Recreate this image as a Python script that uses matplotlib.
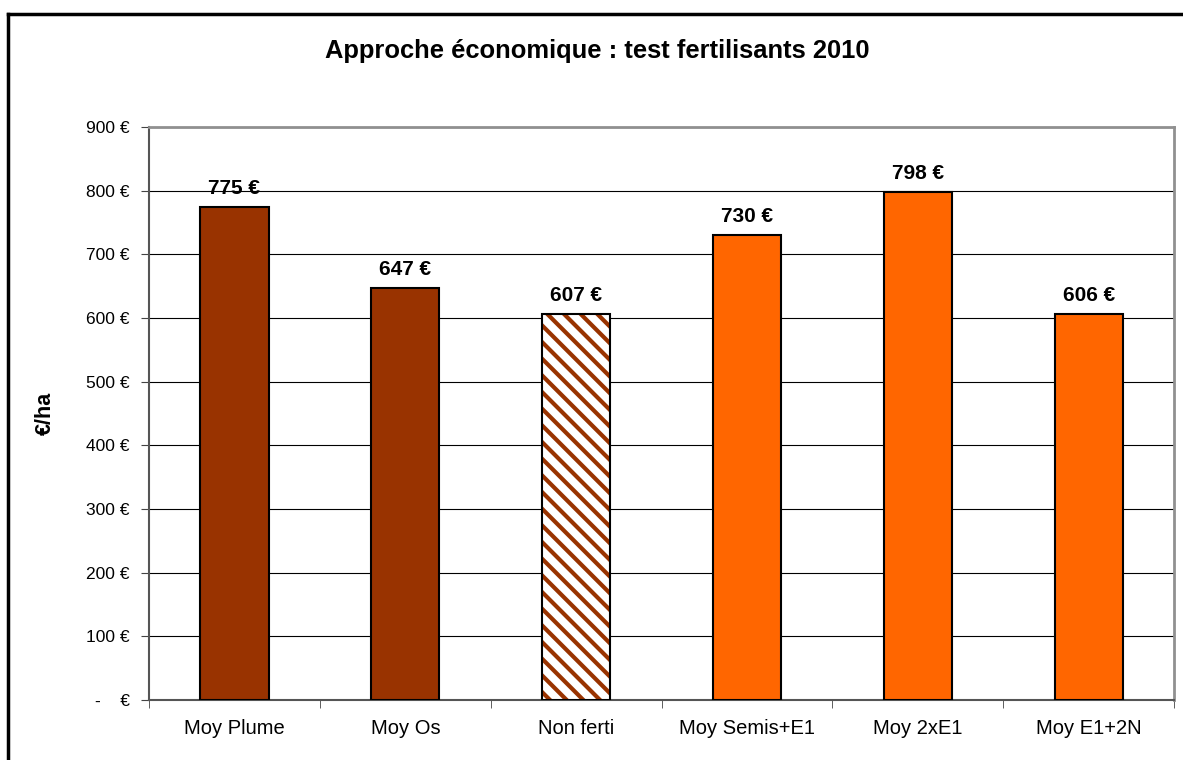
import matplotlib
matplotlib.use("Agg")
import matplotlib.pyplot as plt
import matplotlib.ticker as mticker
from matplotlib.lines import Line2D
import numpy as np

categories = ["Moy Plume", "Moy Os", "Non ferti", "Moy Semis+E1", "Moy 2xE1", "Moy E1+2N"]
values = [775, 647, 607, 730, 798, 606]
bar_colors = ["#993300", "#993300", "white", "#FF6600", "#FF6600", "#FF6600"]
hatched = [False, False, True, False, False, False]
y_ticks = [0, 100, 200, 300, 400, 500, 600, 700, 800, 900]

plt.rcParams["font.family"] = ["Liberation Sans", "DejaVu Sans"]
plt.rcParams["hatch.linewidth"] = 3.0

fig = plt.figure(figsize=(11.83, 7.6), dpi=100)
ax = fig.add_axes([0.126, 0.0789, 0.8665, 0.754])

x = np.arange(len(categories))
for xi, v, c, h in zip(x, values, bar_colors, hatched):
    if h:
        ax.bar(xi, v, width=0.4, color="white", edgecolor="#993300",
               hatch="\\\\", lw=0, zorder=3)
        ax.bar(xi, v, width=0.4, fill=False, edgecolor="black", lw=1.5, zorder=4)
    else:
        ax.bar(xi, v, width=0.4, color=c, edgecolor="black", lw=1.5, zorder=3)
    ax.text(xi, v + 14, f"{v} €", ha="center", va="bottom",
            fontsize=15, fontweight="bold")

ax.set_xlim(-0.5, len(categories) - 0.5)
ax.set_ylim(0, 900)
ax.set_yticks(y_ticks)
ax.set_yticklabels([f"{t} €" if t else "-    €" for t in y_ticks], fontsize=12.5)
ax.set_xticks(x)
ax.set_xticklabels(categories, fontsize=14.5)
ax.tick_params(axis="x", length=0, pad=14)
ax.xaxis.set_minor_locator(mticker.FixedLocator(np.arange(-0.5, len(categories), 1)))
ax.tick_params(axis="x", which="minor", length=6, direction="out", color="#444444")
ax.tick_params(axis="y", length=6, direction="out", color="#444444", pad=8)

ax.grid(axis="y", color="black", lw=0.8, zorder=0)
for s in ["top", "right"]:
    ax.spines[s].set_color("#909090")
    ax.spines[s].set_linewidth(2)
for s in ["left", "bottom"]:
    ax.spines[s].set_color("#555555")
    ax.spines[s].set_linewidth(1.5)

ax.set_ylabel("€/ha", fontsize=15.5, fontweight="bold", labelpad=22)
fig.text(0.505, 0.933, "Approche économique : test fertilisants 2010",
         ha="center", va="center", fontsize=18.4, fontweight="bold")

# outer chart frame: only left and top edges fall inside the picture
fig.add_artist(Line2D([8 / 1183, 8 / 1183], [0, 1 - 14 / 760], color="black", lw=2.5))
fig.add_artist(Line2D([8 / 1183, 1], [1 - 14 / 760, 1 - 14 / 760], color="black", lw=2.5))

fig.savefig("out.png", dpi=100)
